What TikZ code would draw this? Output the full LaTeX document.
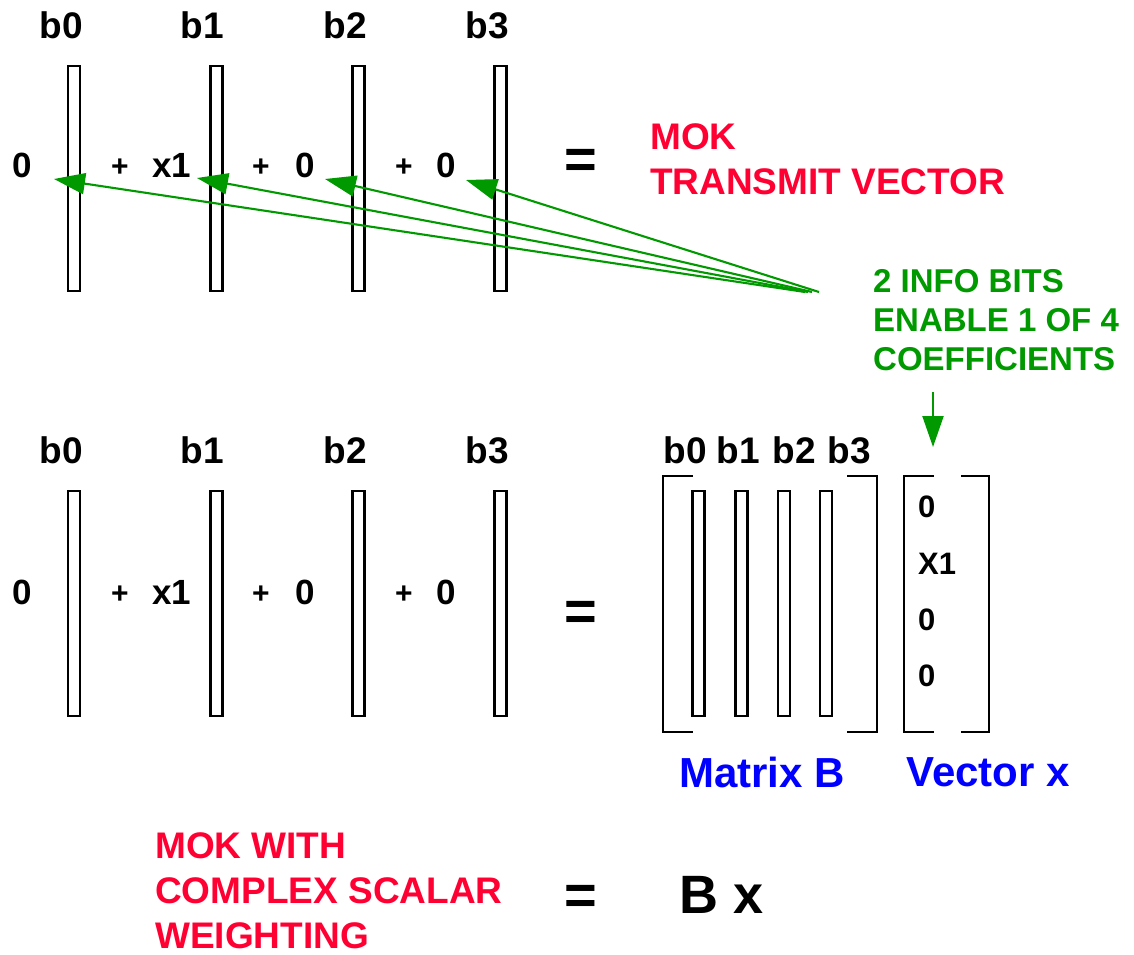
\documentclass[tikz,border=0pt]{standalone}
\usepackage{fontspec}
\setmainfont{Liberation Sans}
\usepackage{tikz}
\usetikzlibrary{arrows.meta}
\usepackage{xcolor}
\definecolor{mokred}{RGB}{255,0,51}
\definecolor{infogreen}{RGB}{0,153,0}
\definecolor{labblue}{RGB}{0,0,255}

\tikzset{
  bvec/.style={draw,line width=2.1pt,minimum width=12pt,minimum height=225pt,inner sep=0pt},
  blbl/.style={font=\fontsize{37}{40}\selectfont\bfseries,inner sep=0pt},
  coef/.style={font=\fontsize{35}{40}\selectfont\bfseries,inner sep=0pt},
  plus/.style={font=\fontsize{30}{34}\selectfont\bfseries,inner sep=0pt},
  equal/.style={font=\fontsize{56}{60}\selectfont\bfseries,inner sep=0pt},
  redtxt/.style={text=mokred,font=\fontsize{37}{45}\selectfont\bfseries,align=left,inner sep=0pt},
  bluetxt/.style={text=labblue,font=\fontsize{42}{46}\selectfont\bfseries,inner sep=0pt},
  brack/.style={line width=2.1pt,line join=miter},
  sel/.style={->,infogreen,line width=2.1pt}
}

\begin{document}
\begin{tikzpicture}[x=1pt,y=-1pt,>={Triangle[length=31pt,width=21pt]}]
\useasboundingbox (0,0) rectangle (1134,954);
% top row: transmit vector as a sum of basis vectors
\node[blbl] (tb0) at (61,25) {b0};
\node[blbl] (tb1) at (202,25) {b1};
\node[blbl] (tb2) at (345,25) {b2};
\node[blbl] (tb3) at (487,25) {b3};
\node[bvec] (tbar0) at (74,178.5) {};
\node[bvec] (tbar1) at (216.5,178.5) {};
\node[bvec] (tbar2) at (358.5,178.5) {};
\node[bvec] (tbar3) at (500.5,178.5) {};
\node[coef] (tc0) at (22,165) {0};
\node[plus] (tp1) at (120,168) {+};
\node[coef] (tc1) at (172,165) {x1};
\node[plus] (tp2) at (261,168) {+};
\node[coef] (tc2) at (305,165) {0};
\node[plus] (tp3) at (404,168) {+};
\node[coef] (tc3) at (446,165) {0};
\node[equal] (teq) at (581,164) {=};
\node[redtxt,anchor=west] (mok) at (650,159) {MOK\\TRANSMIT VECTOR};
% info bits select one coefficient
\node[text=infogreen,font=\fontsize{33}{39}\selectfont\bfseries,align=left,inner sep=0pt,anchor=north west] (info) at (873,269) {2 INFO BITS\\ENABLE 1 OF 4\\COEFFICIENTS};
\coordinate (src0) at (805,292);
\coordinate (src1) at (808,292);
\coordinate (src2) at (812,292);
\coordinate (src3) at (819,292);
\coordinate (tip0) at (54,179);
\coordinate (tip1) at (197,178);
\coordinate (tip2) at (325,179);
\coordinate (tip3) at (466,180);
\draw[sel] (src0) -- (tip0);
\draw[sel] (src1) -- (tip1);
\draw[sel] (src2) -- (tip2);
\draw[sel] (src3) -- (tip3);
\coordinate (dn0) at (933,392);
\coordinate (dn1) at (933,447);
\draw[sel] (dn0) -- (dn1);
% bottom row
\node[blbl] (bb0) at (61,450) {b0};
\node[blbl] (bb1) at (202,450) {b1};
\node[blbl] (bb2) at (345,450) {b2};
\node[blbl] (bb3) at (487,450) {b3};
\node[bvec] (bbar0) at (74,603.5) {};
\node[bvec] (bbar1) at (216.5,603.5) {};
\node[bvec] (bbar2) at (358.5,603.5) {};
\node[bvec] (bbar3) at (500.5,603.5) {};
\node[coef] (bc0) at (22,592) {0};
\node[plus] (bp1) at (120,595) {+};
\node[coef] (bc1) at (172,592) {x1};
\node[plus] (bp2) at (261,595) {+};
\node[coef] (bc2) at (305,592) {0};
\node[plus] (bp3) at (404,595) {+};
\node[coef] (bc3) at (446,592) {0};
\node[equal] (beq) at (581,616) {=};
% matrix B
\node[blbl] (mb0) at (685,450) {b0};
\node[blbl] (mb1) at (738,450) {b1};
\node[blbl] (mb2) at (794,450) {b2};
\node[blbl] (mb3) at (849,450) {b3};
\node[bvec] (mbar0) at (698.5,603.5) {};
\node[bvec] (mbar1) at (741.5,603.5) {};
\node[bvec] (mbar2) at (784,603.5) {};
\node[bvec] (mbar3) at (826,603.5) {};
\draw[brack] (693,476) -- (663,476) -- (663,732) -- (693,732);
\draw[brack] (847,476) -- (877,476) -- (877,732) -- (847,732);
\node[bluetxt] (matB) at (762,772) {Matrix B};
% vector x
\draw[brack] (934,476) -- (904,476) -- (904,732) -- (934,732);
\draw[brack] (961,476) -- (989,476) -- (989,732) -- (961,732);
\node[coef,font=\fontsize{31}{34}\selectfont\bfseries,anchor=west] (x0) at (918,507) {0};
\node[coef,font=\fontsize{31}{34}\selectfont\bfseries,anchor=west] (x1) at (918,564) {X1};
\node[coef,font=\fontsize{31}{34}\selectfont\bfseries,anchor=west] (x2) at (918,620) {0};
\node[coef,font=\fontsize{31}{34}\selectfont\bfseries,anchor=west] (x3) at (918,676) {0};
\node[bluetxt] (vecx) at (988,772) {Vector x};
% result
\node[redtxt,anchor=north west] (mokw) at (155,832) {MOK WITH\\COMPLEX SCALAR\\WEIGHTING};
\node[equal] (req) at (581,900) {=};
\node[font=\fontsize{54}{60}\selectfont\bfseries,inner sep=0pt,anchor=west] (bx) at (679,895) {B x};
\end{tikzpicture}
\end{document}
